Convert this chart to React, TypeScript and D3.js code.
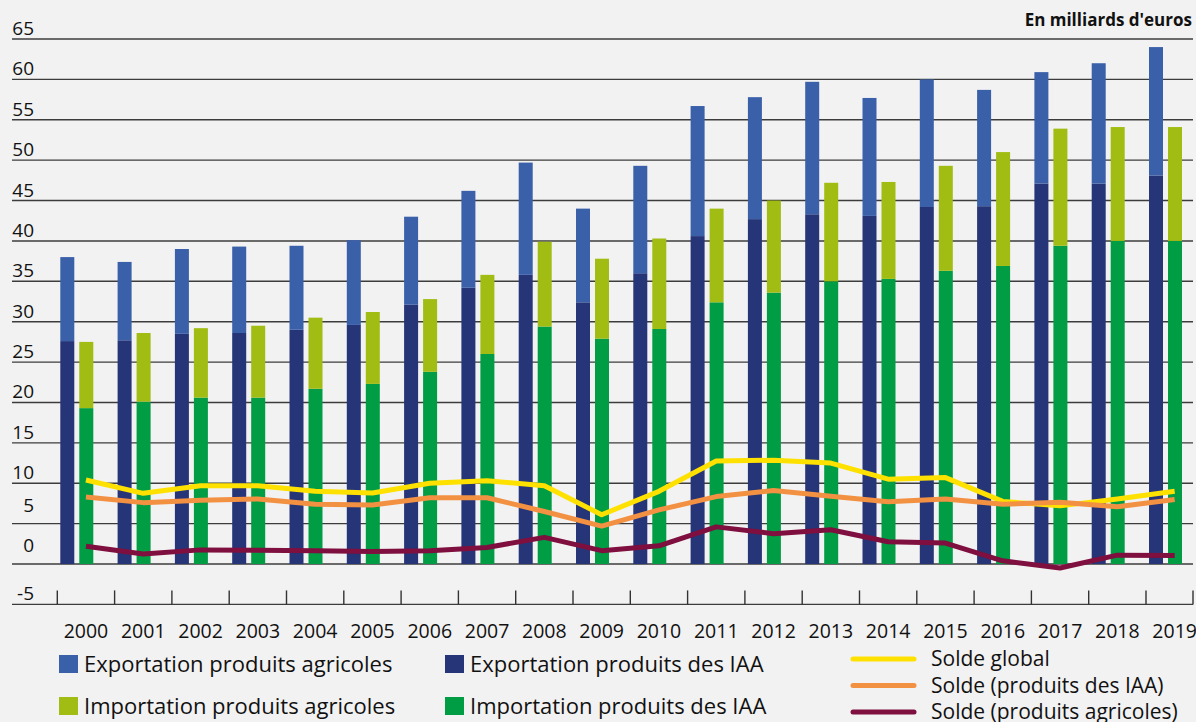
import React, { useEffect, useRef } from 'react';
import * as d3 from 'd3';

const years = ['2000', '2001', '2002', '2003', '2004', '2005', '2006', '2007', '2008', '2009',
  '2010', '2011', '2012', '2013', '2014', '2015', '2016', '2017', '2018', '2019'];

// exports (milliards d'euros)
const exportIAA = [27.6, 27.7, 28.5, 28.6, 29.0, 29.6, 32.1, 34.2, 35.8, 32.4, 36.0, 40.6, 42.7, 43.3, 43.1, 44.2, 44.3, 47.1, 47.1, 48.1];
const exportAgri = [10.4, 9.7, 10.5, 10.7, 10.4, 10.5, 10.9, 12.0, 13.9, 11.6, 13.3, 16.1, 15.1, 16.4, 14.6, 15.8, 14.4, 13.8, 14.9, 15.9];
// imports
const importIAA = [19.3, 20.1, 20.6, 20.6, 21.7, 22.3, 23.8, 26.0, 29.4, 27.9, 29.1, 32.4, 33.6, 35.0, 35.3, 36.3, 36.9, 39.4, 40.0, 40.0];
const importAgri = [8.2, 8.5, 8.6, 8.9, 8.8, 8.9, 9.0, 9.8, 10.5, 9.9, 11.2, 11.6, 11.4, 12.2, 12.0, 13.0, 14.1, 14.5, 14.1, 14.1];
// soldes
const soldeGlobal = [10.4, 8.75, 9.7, 9.7, 9.0, 8.8, 10.0, 10.3, 9.7, 6.1, 9.0, 12.75, 12.85, 12.5, 10.5, 10.7, 7.75, 7.2, 8.05, 9.0];
const soldeIAA = [8.3, 7.6, 7.9, 8.05, 7.4, 7.3, 8.2, 8.2, 6.5, 4.7, 6.7, 8.35, 9.1, 8.4, 7.7, 8.05, 7.4, 7.65, 7.1, 8.0];
const soldeAgri = [2.2, 1.25, 1.75, 1.7, 1.65, 1.55, 1.65, 2.05, 3.3, 1.65, 2.25, 4.6, 3.75, 4.25, 2.75, 2.6, 0.4, -0.5, 1.1, 1.05];

const yTicks = [-5, 0, 5, 10, 15, 20, 25, 30, 35, 40, 45, 50, 55, 60, 65];

const barLegend = [
  { label: 'Exportation produits agricoles', color: '#3b60aa' },
  { label: 'Exportation produits des IAA', color: '#263577' },
  { label: 'Importation produits agricoles', color: '#a1bc12' },
  { label: 'Importation produits des IAA', color: '#009d45' },
];
const lineLegend = [
  { label: 'Solde global', color: '#ffe100', values: soldeGlobal },
  { label: 'Solde (produits des IAA)', color: '#f39143', values: soldeIAA },
  { label: 'Solde (produits agricoles)', color: '#7f0f3e', values: soldeAgri },
];

const W = 1196;
const H = 722;
const FONT = '"Open Sans", sans-serif';

export default function App() {
  const ref = useRef<SVGSVGElement>(null);

  useEffect(() => {
    const svg = d3.select(ref.current);
    svg.selectAll('*').remove();

    const left = 12, right = 1193;
    const x = d3.scaleBand<string>().domain(years).range([57.3, 57.3 + 20 * 57.3]).paddingInner(0).paddingOuter(0);
    const sub = d3.scaleBand<string>().domain(['exp', 'imp']).range([3, 36]).paddingInner(0.263);
    const y = d3.scaleLinear().domain([-5, 65]).range([604.4, 39]);

    svg.append('rect').attr('width', W).attr('height', H).attr('fill', '#f2f2f2');

    // grid + y labels
    const grid = svg.append('g');
    grid.selectAll('line').data(yTicks).enter().append('line')
      .attr('x1', left).attr('x2', right)
      .attr('y1', d => y(d)).attr('y2', d => y(d))
      .attr('stroke', '#3c3c3c').attr('stroke-width', 1.4);
    grid.selectAll('text').data(yTicks).enter().append('text')
      .attr('x', 34).attr('y', d => y(d) - ((d === 0 || d === 5) ? 12 : 4))
      .attr('text-anchor', 'end')
      .style('font-family', FONT).style('font-size', '19px').attr('fill', '#111')
      .text(d => d);

    // ticks on the bottom axis
    const tickX = years.map(yr => x(yr) as number).concat([right]);
    svg.append('g').selectAll('line').data(tickX).enter().append('line')
      .attr('x1', d => d).attr('x2', d => d)
      .attr('y1', y(-5) - 14).attr('y2', y(-5))
      .attr('stroke', '#333').attr('stroke-width', 1.4);

    svg.append('g').selectAll('text').data(years).enter().append('text')
      .attr('x', d => (x(d) as number) + x.bandwidth() / 2)
      .attr('y', 638)
      .attr('text-anchor', 'middle')
      .style('font-family', FONT).style('font-size', '19.5px').attr('fill', '#111')
      .text(d => d);

    // stacked bars
    const stacks = [
      { key: 'exp', bottom: exportIAA, top: exportAgri, cBottom: barLegend[1].color, cTop: barLegend[0].color },
      { key: 'imp', bottom: importIAA, top: importAgri, cBottom: barLegend[3].color, cTop: barLegend[2].color },
    ];
    stacks.forEach(s => {
      const g = svg.append('g');
      years.forEach((yr, i) => {
        const bx = (x(yr) as number) + (sub(s.key) as number);
        g.append('rect')
          .attr('x', bx).attr('width', sub.bandwidth())
          .attr('y', y(s.bottom[i])).attr('height', y(0) - y(s.bottom[i]))
          .attr('fill', s.cBottom);
        g.append('rect')
          .attr('x', bx).attr('width', sub.bandwidth())
          .attr('y', y(s.bottom[i] + s.top[i])).attr('height', y(s.bottom[i]) - y(s.bottom[i] + s.top[i]))
          .attr('fill', s.cTop);
      });
    });

    // solde lines
    const line = d3.line<number>()
      .x((d, i) => (x(years[i]) as number) + x.bandwidth() / 2)
      .y(d => y(d));
    lineLegend.forEach(l => {
      svg.append('path')
        .attr('d', line(l.values))
        .attr('fill', 'none')
        .attr('stroke', l.color)
        .attr('stroke-width', 5)
        .attr('stroke-linejoin', 'round');
    });

    svg.append('text')
      .attr('x', 1192).attr('y', 26)
      .attr('text-anchor', 'end')
      .style('font-family', FONT).style('font-size', '17px').style('font-weight', 'bold')
      .attr('fill', '#111')
      .text("En milliards d'euros");

    // legend
    const lg = svg.append('g');
    const pos = [[59, 655], [445, 655], [59, 697], [445, 697]];
    barLegend.forEach((item, i) => {
      lg.append('rect').attr('x', pos[i][0]).attr('y', pos[i][1]).attr('width', 19).attr('height', 18).attr('fill', item.color);
      lg.append('text')
        .attr('x', pos[i][0] + 25).attr('y', pos[i][1] + 17)
        .style('font-family', FONT).style('font-size', '22px').attr('fill', '#111')
        .text(item.label);
    });
    lineLegend.forEach((l, i) => {
      const ly = 659 + i * 26.5;
      lg.append('line')
        .attr('x1', 853).attr('x2', 914).attr('y1', ly).attr('y2', ly)
        .attr('stroke', l.color).attr('stroke-width', 5).attr('stroke-linecap', 'round');
      lg.append('text')
        .attr('x', 931).attr('y', ly + 7)
        .style('font-family', FONT).style('font-size', '21px').attr('fill', '#111')
        .text(l.label);
    });
  }, []);

  return (
    <svg ref={ref} width={W} height={H}
      style={{ position: 'absolute', left: 0, top: 0, display: 'block' }} />
  );
}
